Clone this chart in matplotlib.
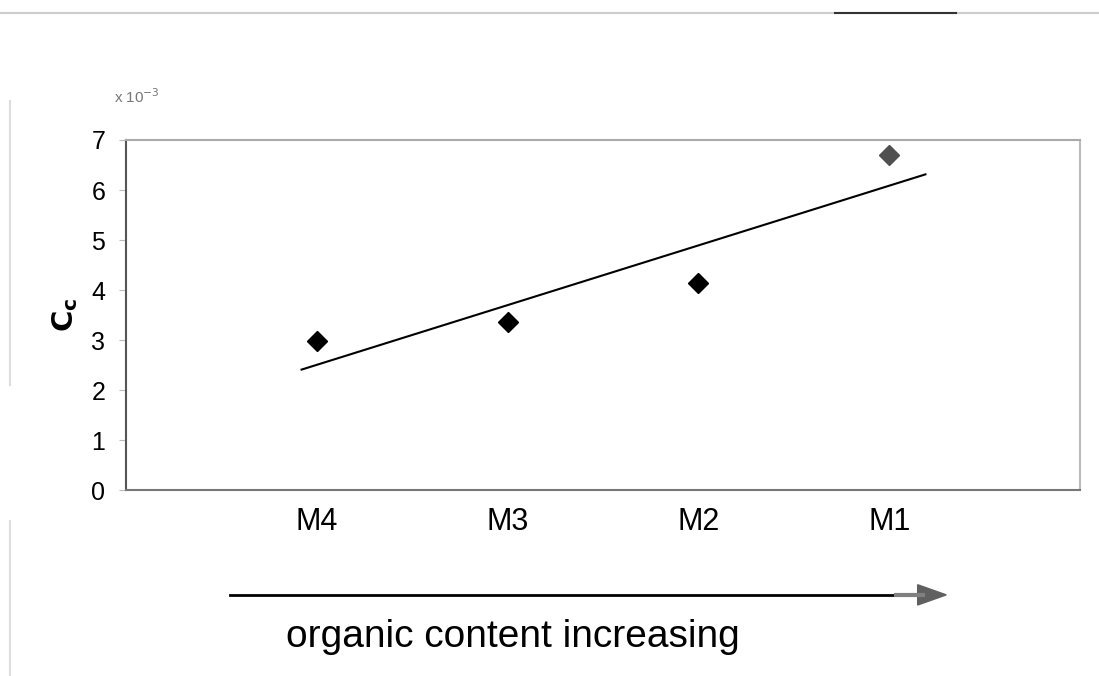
import matplotlib.pyplot as plt
import numpy as np

plt.rcParams['font.family'] = ['Liberation Sans', 'DejaVu Sans']

# Cc values (x 10^-3) per mix
mixes = ['M4', 'M3', 'M2', 'M1']
cc = [2.98, 3.36, 4.14, 6.70]
marker_colors = ['black', 'black', 'black', '#505050']
yticks = [0, 1, 2, 3, 4, 5, 6, 7]

fig = plt.figure(figsize=(10.99, 6.76), dpi=100)
ax = fig.add_axes([0.1147, 0.2751, 0.868, 0.5178])

xpos = np.arange(1, len(mixes) + 1)
for x, y, c in zip(xpos, cc, marker_colors):
    ax.plot(x, y, marker='D', ms=10, color=c, ls='none', zorder=3)

# linear trend line
k, b = np.polyfit(xpos, cc, 1)
xt = np.array([0.92, 4.19])
ax.plot(xt, k * xt + b, color='black', lw=1.5)

ax.set_xlim(0, 5)
ax.set_ylim(0, 7)
ax.set_xticks(xpos)
ax.set_xticklabels(mixes, fontsize=22)
ax.set_yticks(yticks)
ax.set_yticklabels([str(t) for t in yticks], fontsize=18)
ax.tick_params(axis='x', length=0, pad=12)
ax.tick_params(axis='y', length=5, color='#bbbbbb', pad=10)

ax.spines['left'].set_color('#555555')
ax.spines['bottom'].set_color('#777777')
ax.spines['top'].set_color('#aaaaaa')
ax.spines['right'].set_color('#bbbbbb')
for s in ax.spines.values():
    s.set_linewidth(1.5)

ax.set_ylabel(r'$\mathbf{C_c}$', fontsize=21, labelpad=8)
fig.text(0.104, 0.848, r'x 10$^{-3}$', fontsize=11, color='#777777')

# arrow under the axis
fig.add_artist(plt.Line2D([0.209, 0.835], [0.120, 0.120], color='black', lw=2))
fig.patches.append(plt.Polygon([[0.835, 0.105], [0.861, 0.120], [0.835, 0.135]],
                               closed=True, color='#606060', transform=fig.transFigure))
fig.add_artist(plt.Line2D([0.815, 0.840], [0.120, 0.120], color='#808080', lw=3))
fig.text(0.467, 0.057, 'organic content increasing', fontsize=28, ha='center', va='center')

# page rules
fig.add_artist(plt.Line2D([0.0, 1.0], [0.981, 0.981], color='#cccccc', lw=1.5))
fig.add_artist(plt.Line2D([0.76, 0.87], [0.981, 0.981], color='#333333', lw=1.5))
fig.add_artist(plt.Line2D([0.009, 0.009], [0.43, 0.85], color='#dddddd', lw=1.5))
fig.add_artist(plt.Line2D([0.009, 0.009], [0.0, 0.23], color='#dddddd', lw=1.5))

fig.savefig('out.png', dpi=100)
